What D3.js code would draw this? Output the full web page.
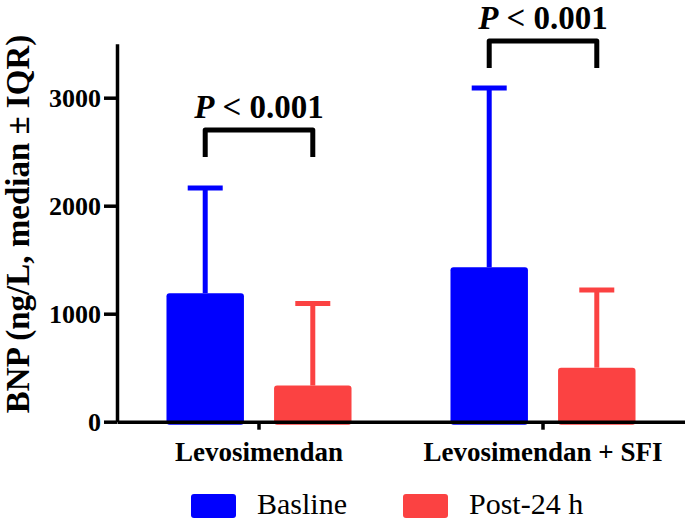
<!DOCTYPE html>
<html>
<head>
<meta charset="utf-8">
<script src="https://cdn.jsdelivr.net/npm/d3@7"></script>
<style>
  html, body { margin: 0; padding: 0; background: #fff; }
  svg { display: block; }
  text { font-family: "Liberation Serif", "DejaVu Serif", serif; fill: #000; }
</style>
</head>
<body>
<svg id="chart" width="685" height="522"></svg>
<script>
// ---- data ----
const categories = ["Levosimendan", "Levosimendan + SFI"];
const seriesNames = ["Basline", "Post-24 h"];
const basline = [1190, 1430];          // median
const post24 = [335, 500];             // median
const baslineUpper = [2165, 3090];     // median + IQR
const post24Upper = [1095, 1220];      // median + IQR
const yTicks = [0, 1000, 2000, 3000];
const pLabels = ["P < 0.001", "P < 0.001"];
const bracketLevels = [2700, 3525];
const colors = ["#0000ff", "#fb4242"];

// ---- layout ----
const svg = d3.select("#chart");
const FONT = "Liberation Serif";
const y = d3.scaleLinear().domain([0, 3500]).range([421.7, 43.7]);
const x0 = d3.scaleBand().domain(categories).range([117, 685]).padding(0);
const x1 = d3.scaleBand().domain(seriesNames).range([0, x0.bandwidth()])
  .paddingInner(0.28).paddingOuter(0.46);

const values = [basline, post24];
const uppers = [baslineUpper, post24Upper];
const rows = [];
categories.forEach((c, ci) => {
  seriesNames.forEach((s, si) => {
    rows.push({cat: c, ser: s, si, v: values[si][ci], up: uppers[si][ci]});
  });
});

// error bars (behind bars)
const eb = svg.append("g");
rows.forEach(d => {
  const cx = x0(d.cat) + x1(d.ser) + x1.bandwidth() / 2;
  eb.append("line").attr("x1", cx).attr("x2", cx)
    .attr("y1", y(d.v)).attr("y2", y(d.up))
    .attr("stroke", colors[d.si]).attr("stroke-width", 5);
  eb.append("line").attr("x1", cx - 17.5).attr("x2", cx + 17.5)
    .attr("y1", y(d.up)).attr("y2", y(d.up))
    .attr("stroke", colors[d.si]).attr("stroke-width", 5);
});

// bars
svg.append("g").selectAll("rect").data(rows).join("rect")
  .attr("x", d => x0(d.cat) + x1(d.ser))
  .attr("width", x1.bandwidth())
  .attr("y", d => y(d.v))
  .attr("height", d => y(0) - y(d.v) + 3)
  .attr("rx", 3)
  .attr("fill", d => colors[d.si]);

// y axis
const ya = svg.append("g").attr("transform", "translate(117,0)")
  .call(d3.axisLeft(y).tickValues(yTicks).tickFormat(d3.format("d"))
    .tickSize(13).tickPadding(3).tickSizeOuter(0));
ya.select(".domain").attr("stroke", "#000").attr("stroke-width", 3.5);
ya.selectAll(".tick line").attr("stroke", "#000").attr("stroke-width", 3.5);
ya.selectAll(".tick text").attr("font-family", FONT)
  .attr("font-weight", "bold").attr("font-size", 26).attr("fill", "#000");

// x axis
const xa = svg.append("g").attr("transform", `translate(0,${y(0)})`)
  .call(d3.axisBottom(x0).tickSize(8).tickPadding(12).tickSizeOuter(0));
xa.select(".domain").attr("stroke", "#000").attr("stroke-width", 3.5);
xa.selectAll(".tick line").attr("stroke", "#000").attr("stroke-width", 3.5);
xa.selectAll(".tick text").attr("font-family", FONT)
  .attr("font-weight", "bold").attr("font-size", 27).attr("fill", "#000");

// y title
svg.append("text")
  .attr("transform", "translate(29,224) rotate(-90)")
  .attr("text-anchor", "middle")
  .attr("font-family", FONT)
  .attr("font-weight", "bold").attr("font-size", 33)
  .text("BNP (ng/L, median ± IQR)");

// significance brackets
categories.forEach((c, ci) => {
  const xa_ = x0(c) + x1(seriesNames[0]) + x1.bandwidth() / 2;
  const xb_ = x0(c) + x1(seriesNames[1]) + x1.bandwidth() / 2;
  const by = y(bracketLevels[ci]);
  svg.append("path")
    .attr("d", `M${xa_},${by + 27}V${by}H${xb_}V${by + 27}`)
    .attr("fill", "none").attr("stroke", "#000").attr("stroke-width", 5)
    .attr("stroke-linejoin", "round");
  const parts = pLabels[ci].split(" ");
  const t = svg.append("text")
    .attr("x", (xa_ + xb_) / 2).attr("y", by - 12)
    .attr("text-anchor", "middle")
    .attr("font-family", FONT)
    .attr("font-weight", "bold").attr("font-size", 33);
  t.append("tspan").attr("font-style", "italic").text(parts[0]);
  t.append("tspan").text(" " + parts.slice(1).join(" "));
});

// legend
const legX = [191, 403];
seriesNames.forEach((s, i) => {
  svg.append("rect").attr("x", legX[i]).attr("y", 494).attr("width", 45).attr("height", 24)
    .attr("rx", 3).attr("fill", colors[i]);
  svg.append("text").attr("x", legX[i] + 66).attr("y", 514)
    .attr("font-family", FONT)
    .attr("font-size", 30).text(s);
});
</script>
</body>
</html>
